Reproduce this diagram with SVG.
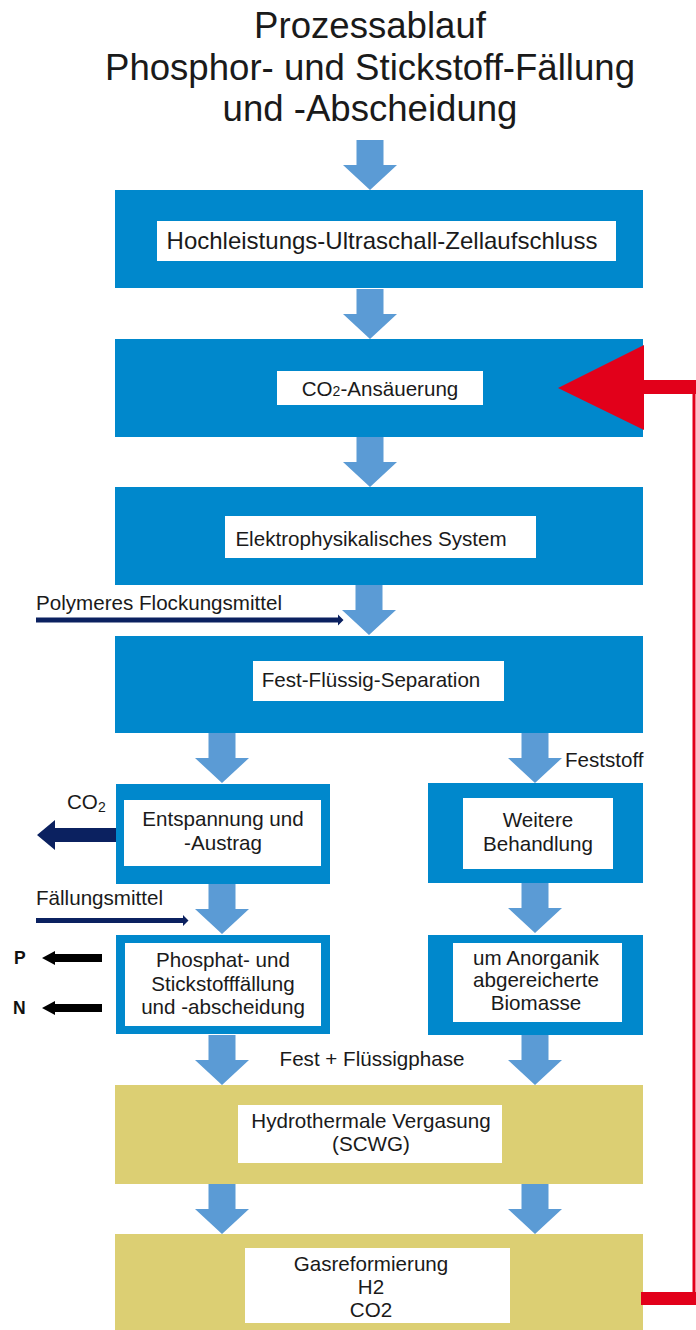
<svg xmlns="http://www.w3.org/2000/svg" xmlns:xlink="http://www.w3.org/1999/xlink" width="696" height="1330" viewBox="0 0 696 1330">
<style>
text{font-family:"Liberation Sans",Arial,sans-serif;fill:#1a1a1a}
.t{font-size:36.6px;text-anchor:middle}
.b{font-size:20.6px;text-anchor:middle}
.l{font-size:20.6px}
.blue{fill:#0088cc}
.khaki{fill:#dccf73}
.white{fill:#ffffff}
.arr{fill:#5b9bd5}
.navy{fill:#0b2160}
.red{fill:#e2001a}
.pn{font-size:17.5px;font-weight:bold;fill:#111}
</style>
<defs>
<path id="dn" d="M-13.5,0H13.5V25H27L0,50L-27,25H-13.5Z"/>
</defs>
<rect width="696" height="1330" fill="#ffffff"/>
<g id="title">
<text class="t" x="370" y="38">Prozessablauf</text>
<text class="t" x="370" y="80">Phosphor- und Stickstoff-Fällung</text>
<text class="t" x="370" y="121">und -Abscheidung</text>
</g>
<g id="n1">
<rect class="blue" x="115" y="190" width="528" height="98"/>
<rect class="white" x="157" y="221" width="459" height="40"/>
<text class="b" x="382" y="249" style="font-size:24px">Hochleistungs-Ultraschall-Zellaufschluss</text>
</g>
<g id="n2">
<rect class="blue" x="115" y="339" width="528" height="98"/>
<rect class="white" x="277" y="371" width="206" height="34"/>
<text class="b" x="380" y="396">CO<tspan style="font-size:14px">2</tspan>-Ansäuerung</text>
</g>
<g id="n3">
<rect class="blue" x="115" y="487" width="528" height="98"/>
<rect class="white" x="225" y="516" width="311" height="42"/>
<text class="b" x="371" y="546">Elektrophysikalisches System</text>
</g>
<g id="n4">
<rect class="blue" x="115" y="636" width="528" height="97"/>
<rect class="white" x="253" y="661" width="251" height="40"/>
<text class="b" x="371" y="687">Fest-Flüssig-Separation</text>
</g>
<g id="n5">
<rect class="blue" x="116" y="784" width="214" height="100"/>
<rect class="white" x="124" y="800" width="197" height="66"/>
<text class="b" x="223" y="826">Entspannung und</text>
<text class="b" x="223" y="850">-Austrag</text>
</g>
<g id="n6">
<rect class="blue" x="428" y="783" width="215" height="100"/>
<rect class="white" x="463" y="798" width="150" height="71"/>
<text class="b" x="538" y="827">Weitere</text>
<text class="b" x="538" y="851">Behandlung</text>
</g>
<g id="n7">
<rect class="blue" x="116" y="935" width="214" height="99"/>
<rect class="white" x="125" y="943" width="196" height="83"/>
<text class="b" x="223" y="967">Phosphat- und</text>
<text class="b" x="223" y="991">Stickstofffällung</text>
<text class="b" x="223" y="1014">und -abscheidung</text>
</g>
<g id="n8">
<rect class="blue" x="428" y="935" width="215" height="100"/>
<rect class="white" x="453" y="943" width="169" height="79"/>
<text class="b" x="536" y="965">um Anorganik</text>
<text class="b" x="536" y="987">abgereicherte</text>
<text class="b" x="536" y="1010">Biomasse</text>
</g>
<g id="n9">
<rect class="khaki" x="115" y="1085" width="528" height="99"/>
<rect class="white" x="238" y="1105" width="264" height="58"/>
<text class="b" x="371" y="1128">Hydrothermale Vergasung</text>
<text class="b" x="371" y="1151">(SCWG)</text>
</g>
<g id="n10">
<rect class="khaki" x="115" y="1234" width="528" height="96"/>
<rect class="white" x="245" y="1248" width="265" height="75"/>
<text class="b" x="371" y="1271">Gasreformierung</text>
<text class="b" x="371" y="1294">H2</text>
<text class="b" x="371" y="1317">CO2</text>
</g>
<g id="connectors">
<use href="#dn" class="arr" x="370" y="140"/>
<use href="#dn" class="arr" x="370" y="289"/>
<use href="#dn" class="arr" x="370" y="437"/>
<use href="#dn" class="arr" x="369" y="585"/>
<use href="#dn" class="arr" x="222" y="733"/>
<use href="#dn" class="arr" x="535" y="733"/>
<use href="#dn" class="arr" x="222" y="884"/>
<use href="#dn" class="arr" x="535" y="883"/>
<use href="#dn" class="arr" x="222" y="1035"/>
<use href="#dn" class="arr" x="535" y="1035"/>
<use href="#dn" class="arr" x="222" y="1184"/>
<use href="#dn" class="arr" x="535" y="1184"/>
<polygon class="red" points="558,388 644,345 644,430"/>
<rect class="red" x="643" y="380" width="53" height="14"/>
<rect class="red" x="692.5" y="380" width="3" height="925"/>
<rect class="red" x="641" y="1292" width="55" height="13"/>
<path class="navy" d="M36,617.5H338V614.5L343.5,620L338,625.5V622.5H36Z"/>
<path class="navy" d="M36,918H183V915L188.5,920.5L183,926V923H36Z"/>
<path class="navy" d="M116,828H55V820L37,835L55,850V842H116Z"/>
<path fill="#000" d="M102,954H55V951L42,958L55,965V962H102Z"/>
<path fill="#000" d="M102,1004H55V1001L42,1008L55,1015V1012H102Z"/>
</g>
<g id="labels">
<text class="l" x="36" y="610">Polymeres Flockungsmittel</text>
<text class="l" x="565" y="767">Feststoff</text>
<text class="l" x="67" y="809">CO<tspan dy="3" style="font-size:14px">2</tspan></text>
<text class="l" x="36" y="905">Fällungsmittel</text>
<text class="pn" x="14" y="964">P</text>
<text class="pn" x="13" y="1014">N</text>
<text class="b" x="372" y="1066">Fest + Flüssigphase</text>
</g>
</svg>
